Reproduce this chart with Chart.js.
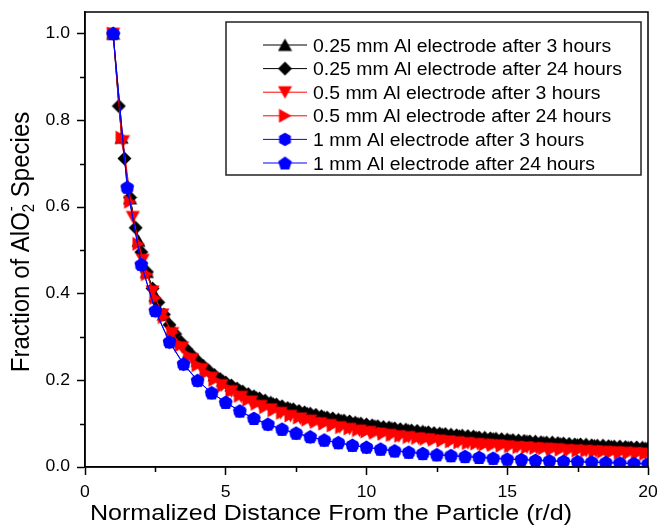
<!DOCTYPE html>
<html lang="en">
<head>
    <meta charset="utf-8">
    <title>Fraction of AlO2- species vs distance</title>
    <script src="https://cdn.jsdelivr.net/npm/chart.js@4.4.1/dist/chart.umd.min.js"></script>
    <style>
        html, body { margin: 0; padding: 0; background: #fff; }
        #gr { display: block; }
    </style>
</head>
<body>
    <canvas id="gr" width="660" height="529"></canvas>

    <script>
        // --- data ---
        // r/d sample positions
        const xBlack24 = [1.0,1.2,1.4,1.6,1.8,2.0,2.2,2.4,2.6,2.8,3.0,3.2,3.4,3.6,3.8,4.0,4.2,4.4,4.6,4.8,
            5.0,5.2,5.4,5.6,5.8,6.0,6.2,6.4,6.6,6.8,7.0,7.2,7.4,7.6,7.8,8.0,8.2,8.4,8.6,8.8,
            9.0,9.2,9.4,9.6,9.8,10.0,10.2,10.4,10.6,10.8,11.0,11.2,11.4,11.6,11.8,12.0,12.2,12.4,12.6,12.8,
            13.0,13.2,13.4,13.6,13.8,14.0,14.2,14.4,14.6,14.8,15.0,15.2,15.4,15.6,15.8,16.0,16.2,16.4,16.6,16.8,
            17.0,17.2,17.4,17.6,17.8,18.0,18.2,18.4,18.6,18.8,19.0,19.2,19.4,19.6,19.8,20.0];
        const xStep03 = [1.0,1.3,1.6,1.9,2.2,2.5,2.8,3.1,3.4,3.7,4.0,4.3,4.6,4.9,5.2,5.5,5.8,6.1,6.4,6.7,
            7.0,7.3,7.6,7.9,8.2,8.5,8.8,9.1,9.4,9.7,10.0,10.3,10.6,10.9,11.2,11.5,11.8,12.1,12.4,12.7,
            13.0,13.3,13.6,13.9,14.2,14.5,14.8,15.1,15.4,15.7,16.0,16.3,16.6,16.9,17.2,17.5,17.8,18.1,18.4,18.7,
            19.0,19.3,19.6,19.9];
        const xRed3 = [1.0,1.35,1.7,2.05,2.4,2.75,3.1,3.45,3.8,4.15,4.5,4.85,5.2,5.55,5.9,6.25,6.6,6.95,7.3,7.65,
            8.0,8.35,8.7,9.05,9.4,9.75,10.1,10.45,10.8,11.15,11.5,11.85,12.2,12.55,12.9,13.25,13.6,13.95,14.3,14.65,
            15.0,15.35,15.7,16.05,16.4,16.75,17.1,17.45,17.8,18.15,18.5,18.85,19.2,19.55,19.9];
        const xBlue = [1.0,1.5,2.0,2.5,3.0,3.5,4.0,4.5,5.0,5.5,6.0,6.5,7.0,7.5,8.0,8.5,9.0,9.5,10.0,10.5,
            11.0,11.5,12.0,12.5,13.0,13.5,14.0,14.5,15.0,15.5,16.0,16.5,17.0,17.5,18.0,18.5,19.0,19.5,20.0];

        // fraction of AlO2- species
        const yBlack3 = [1.000,0.760,0.620,0.522,0.450,0.395,0.352,0.317,0.289,0.265,
            0.245,0.227,0.212,0.199,0.188,0.177,0.168,0.160,0.153,0.146,
            0.140,0.134,0.129,0.124,0.120,0.115,0.112,0.108,0.105,0.101,
            0.098,0.095,0.092,0.090,0.087,0.085,0.083,0.080,0.078,0.076,
            0.074,0.072,0.071,0.069,0.067,0.066,0.064,0.062,0.061,0.060,
            0.058,0.057,0.056,0.054,0.053,0.052,0.051,0.050,0.049,0.048,
            0.047,0.046,0.045,0.044];
        const yBlack24 = [1.000,0.833,0.712,0.622,0.552,0.496,0.450,0.412,0.380,0.352,
            0.328,0.307,0.289,0.272,0.258,0.245,0.233,0.222,0.212,0.203,
            0.195,0.188,0.181,0.174,0.168,0.163,0.158,0.153,0.148,0.144,
            0.140,0.136,0.133,0.129,0.126,0.123,0.120,0.117,0.114,0.112,
            0.109,0.107,0.105,0.102,0.100,0.098,0.096,0.094,0.092,0.091,
            0.089,0.087,0.086,0.084,0.083,0.081,0.080,0.078,0.077,0.076,
            0.074,0.073,0.072,0.071,0.070,0.068,0.067,0.066,0.065,0.064,
            0.063,0.062,0.061,0.060,0.059,0.058,0.057,0.056,0.056,0.055,
            0.054,0.053,0.052,0.052,0.051,0.050,0.049,0.049,0.048,0.047,
            0.047,0.046,0.045,0.045,0.044,0.043];
        const yRed3 = [1.000,0.752,0.577,0.478,0.405,0.352,0.309,0.276,0.249,0.226,
            0.206,0.189,0.175,0.162,0.151,0.141,0.133,0.125,0.118,0.112,
            0.107,0.101,0.097,0.092,0.088,0.084,0.081,0.077,0.074,0.071,
            0.069,0.066,0.064,0.061,0.059,0.057,0.055,0.053,0.051,0.050,
            0.048,0.046,0.045,0.043,0.042,0.041,0.039,0.038,0.037,0.036,
            0.035,0.034,0.033,0.032,0.031];
        const yRed24 = [1.000,0.760,0.612,0.515,0.445,0.390,0.346,0.310,0.281,0.256,
            0.235,0.217,0.201,0.187,0.175,0.164,0.155,0.146,0.138,0.131,
            0.125,0.119,0.114,0.109,0.104,0.100,0.096,0.092,0.089,0.085,
            0.082,0.079,0.077,0.074,0.072,0.069,0.067,0.065,0.063,0.061,
            0.059,0.057,0.055,0.054,0.052,0.051,0.049,0.048,0.046,0.045,
            0.044,0.043,0.041,0.040,0.039,0.038,0.037,0.036,0.035,0.034,
            0.033,0.032,0.031,0.030];
        const yBlue3 = [1.000,0.644,0.466,0.360,0.288,0.237,0.199,0.171,0.149,0.129,
            0.112,0.098,0.087,0.078,0.069,0.062,0.056,0.050,0.045,0.041,
            0.037,0.034,0.031,0.028,0.026,0.024,0.022,0.020,0.018,0.017,
            0.015,0.014,0.013,0.012,0.011,0.010,0.009,0.008,0.007];
        const yBlue24 = [1.000,0.646,0.468,0.361,0.289,0.238,0.200,0.171,0.149,0.129,
            0.112,0.099,0.087,0.078,0.070,0.062,0.056,0.050,0.046,0.041,
            0.037,0.034,0.031,0.028,0.026,0.024,0.022,0.020,0.018,0.017,
            0.015,0.014,0.013,0.012,0.011,0.010,0.009,0.008,0.007];

        const seriesNames = [
            "0.25 mm Al electrode after 3 hours",
            "0.25 mm Al electrode after 24 hours",
            "0.5 mm Al electrode after 3 hours",
            "0.5 mm Al electrode after 24 hours",
            "1 mm Al electrode after 3 hours",
            "1 mm Al electrode after 24 hours"
        ];

        // axis ticks
        const xTicks = [0, 5, 10, 15, 20];
        const xTickLabels = ["0", "5", "10", "15", "20"];
        const xMinor = [2.5, 7.5, 12.5, 17.5];
        const yTicks = [0, 0.2, 0.4, 0.6, 0.8, 1.0];
        const yTickLabels = ["0.0", "0.2", "0.4", "0.6", "0.8", "1.0"];
        const yMinor = [0.1, 0.3, 0.5, 0.7, 0.9];

        const xTitle = "Normalized Distance From the Particle (r/d)";

        const FONT = "'Liberation Sans', Arial, sans-serif";

        // marker glyphs (Origin style symbols), drawn once into small canvases
        function makeMarker(kind, color) {
            var c = document.createElement("canvas");
            c.width = 15; c.height = 15;
            var g = c.getContext("2d");
            var pts = [];
            if (kind == "triUp") pts = [[7.5, 1], [14.5, 13.5], [0.5, 13.5]];
            else if (kind == "triDown") pts = [[0.5, 1.5], [14.5, 1.5], [7.5, 14]];
            else if (kind == "triRight") pts = [[1.5, 0.5], [14, 7.5], [1.5, 14.5]];
            else if (kind == "diamond") pts = [[7.5, 0.5], [14.5, 7.5], [7.5, 14.5], [0.5, 7.5]];
            else {
                var n = kind == "hex" ? 6 : 5;
                var r = kind == "hex" ? 6.8 : 7.2;
                var dy = kind == "hex" ? 0 : 0.8;
                for (var i = 0; i < n; i++) {
                    var a = -Math.PI / 2 + i * 2 * Math.PI / n;
                    pts.push([7.5 + r * Math.cos(a), 7.5 + dy + r * Math.sin(a)]);
                }
            }
            g.fillStyle = color;
            g.beginPath();
            pts.forEach(function (p, i) { if (i) g.lineTo(p[0], p[1]); else g.moveTo(p[0], p[1]); });
            g.closePath();
            g.fill();
            return c;
        }

        function toPoints(xs, ys) {
            return xs.map(function (x, i) { return { x: x, y: ys[i] }; });
        }

        function mkSet(i, xs, ys, color, kind, ord) {
            return {
                label: seriesNames[i],
                data: toPoints(xs, ys),
                showLine: true,
                borderColor: color,
                backgroundColor: color,
                borderWidth: 1,
                pointStyle: makeMarker(kind, color),
                pointRadius: 6,
                pointHoverRadius: 6,
                clip: 0,
                order: ord
            };
        }

        // later series are drawn on top, like in the original plot
        const datasets = [
            mkSet(0, xStep03, yBlack3, "#000000", "triUp", 6),
            mkSet(1, xBlack24, yBlack24, "#000000", "diamond", 5),
            mkSet(2, xRed3, yRed3, "#ff0000", "triDown", 4),
            mkSet(3, xStep03, yRed24, "#ff0000", "triRight", 3),
            mkSet(4, xBlue, yBlue3, "#0000ff", "hex", 2),
            mkSet(5, xBlue, yBlue24, "#0000ff", "pent", 1)
        ];

        // the text in the picture is a little wider than plain Arial
        function wideText(ctx, txt, x, y, align, size, sx) {
            ctx.save();
            ctx.translate(x, y);
            ctx.scale(sx, 1);
            ctx.font = size + "px " + FONT;
            ctx.textAlign = align;
            ctx.fillText(txt, 0, 0);
            ctx.restore();
        }

        // frame, minor ticks, tick labels, titles and the boxed legend
        const decorations = {
            id: "decorations",
            afterDraw: function (chart) {
                var ctx = chart.ctx, a = chart.chartArea;
                var xs = chart.scales.x, ys = chart.scales.y;
                ctx.save();
                ctx.strokeStyle = "#000";
                ctx.lineWidth = 1.5;
                ctx.strokeRect(a.left, a.top, a.right - a.left, a.bottom - a.top);

                // minor ticks
                ctx.beginPath();
                xMinor.forEach(function (v) {
                    var px = Math.round(xs.getPixelForValue(v)) + 0.5;
                    ctx.moveTo(px, a.bottom); ctx.lineTo(px, a.bottom + 5);
                });
                yMinor.forEach(function (v) {
                    var py = Math.round(ys.getPixelForValue(v)) + 0.5;
                    ctx.moveTo(a.left - 5, py); ctx.lineTo(a.left, py);
                });
                ctx.stroke();

                // tick labels
                ctx.fillStyle = "#000";
                ctx.textBaseline = "alphabetic";
                xTicks.forEach(function (v, i) {
                    wideText(ctx, xTickLabels[i], xs.getPixelForValue(v), a.bottom + 30, "center", 16, 1.1);
                });
                ctx.textBaseline = "middle";
                yTicks.forEach(function (v, i) {
                    wideText(ctx, yTickLabels[i], 70, ys.getPixelForValue(v), "right", 16, 1.1);
                });

                // x title
                ctx.textBaseline = "alphabetic";
                wideText(ctx, xTitle, 331, 520, "center", 22, 1.14);

                // y title with AlO2- (sub 2, sup -)
                ctx.save();
                ctx.translate(29, 242);
                ctx.rotate(-Math.PI / 2);
                ctx.scale(1, 1.08);
                var big = "24px " + FONT, small = "15px " + FONT;
                var p1 = "Fraction of AlO", p3 = " Species";
                ctx.font = big;
                var w1 = ctx.measureText(p1).width, w3 = ctx.measureText(p3).width;
                ctx.font = small;
                var w2 = ctx.measureText("2").width;
                var x0 = -(w1 + w2 + w3) / 2;
                ctx.textAlign = "left";
                ctx.font = big;
                ctx.fillText(p1, x0, 0);
                ctx.font = small;
                ctx.fillText("2", x0 + w1, 5);
                ctx.fillText("-", x0 + w1 + 1, -12);
                ctx.font = big;
                ctx.fillText(p3, x0 + w1 + w2, 0);
                ctx.restore();

                // legend box
                var bx = 226, by = 22, bw = 415, bh = 153;
                ctx.fillStyle = "#fff";
                ctx.fillRect(bx, by, bw, bh);
                ctx.strokeStyle = "#222";
                ctx.lineWidth = 1.5;
                ctx.strokeRect(bx, by, bw, bh);
                chart.data.datasets.forEach(function (ds, i) {
                    var cy = 45 + i * 23.6;
                    ctx.strokeStyle = ds.borderColor;
                    ctx.lineWidth = 1;
                    ctx.beginPath();
                    ctx.moveTo(263, cy); ctx.lineTo(307, cy);
                    ctx.stroke();
                    var m = ds.pointStyle;
                    ctx.drawImage(m, 285 - m.width / 2, cy - m.height / 2);
                    ctx.fillStyle = "#000";
                    ctx.textBaseline = "alphabetic";
                    wideText(ctx, ds.label, 313, cy + 6.5, "left", 18, 1.08);
                });
                ctx.restore();
            }
        };

        const axisCommon = {
            type: "linear",
            ticks: { display: false },
            grid: { drawOnChartArea: false, drawTicks: true, tickLength: 8, tickWidth: 1.5, tickColor: "#000" },
            border: { display: true, color: "#000", width: 1.5 }
        };

        const chart = new Chart(document.getElementById("gr").getContext("2d"), {
            type: "scatter",
            data: { datasets: datasets },
            options: {
                responsive: false,
                animation: false,
                events: [],
                layout: { padding: { top: 12, right: 12, left: 0, bottom: 0 } },
                plugins: { legend: { display: false }, tooltip: { enabled: false } },
                scales: {
                    x: Object.assign({}, axisCommon, {
                        min: 0, max: 20,
                        afterBuildTicks: function (s) { s.ticks = xTicks.map(function (v) { return { value: v }; }); },
                        afterFit: function (s) { s.height = 62; }
                    }),
                    y: Object.assign({}, axisCommon, {
                        min: 0, max: 1.05,
                        afterBuildTicks: function (s) { s.ticks = yTicks.map(function (v) { return { value: v }; }); },
                        afterFit: function (s) { s.width = 85; }
                    })
                }
            },
            plugins: [decorations]
        });
    </script>
</body>
</html>
